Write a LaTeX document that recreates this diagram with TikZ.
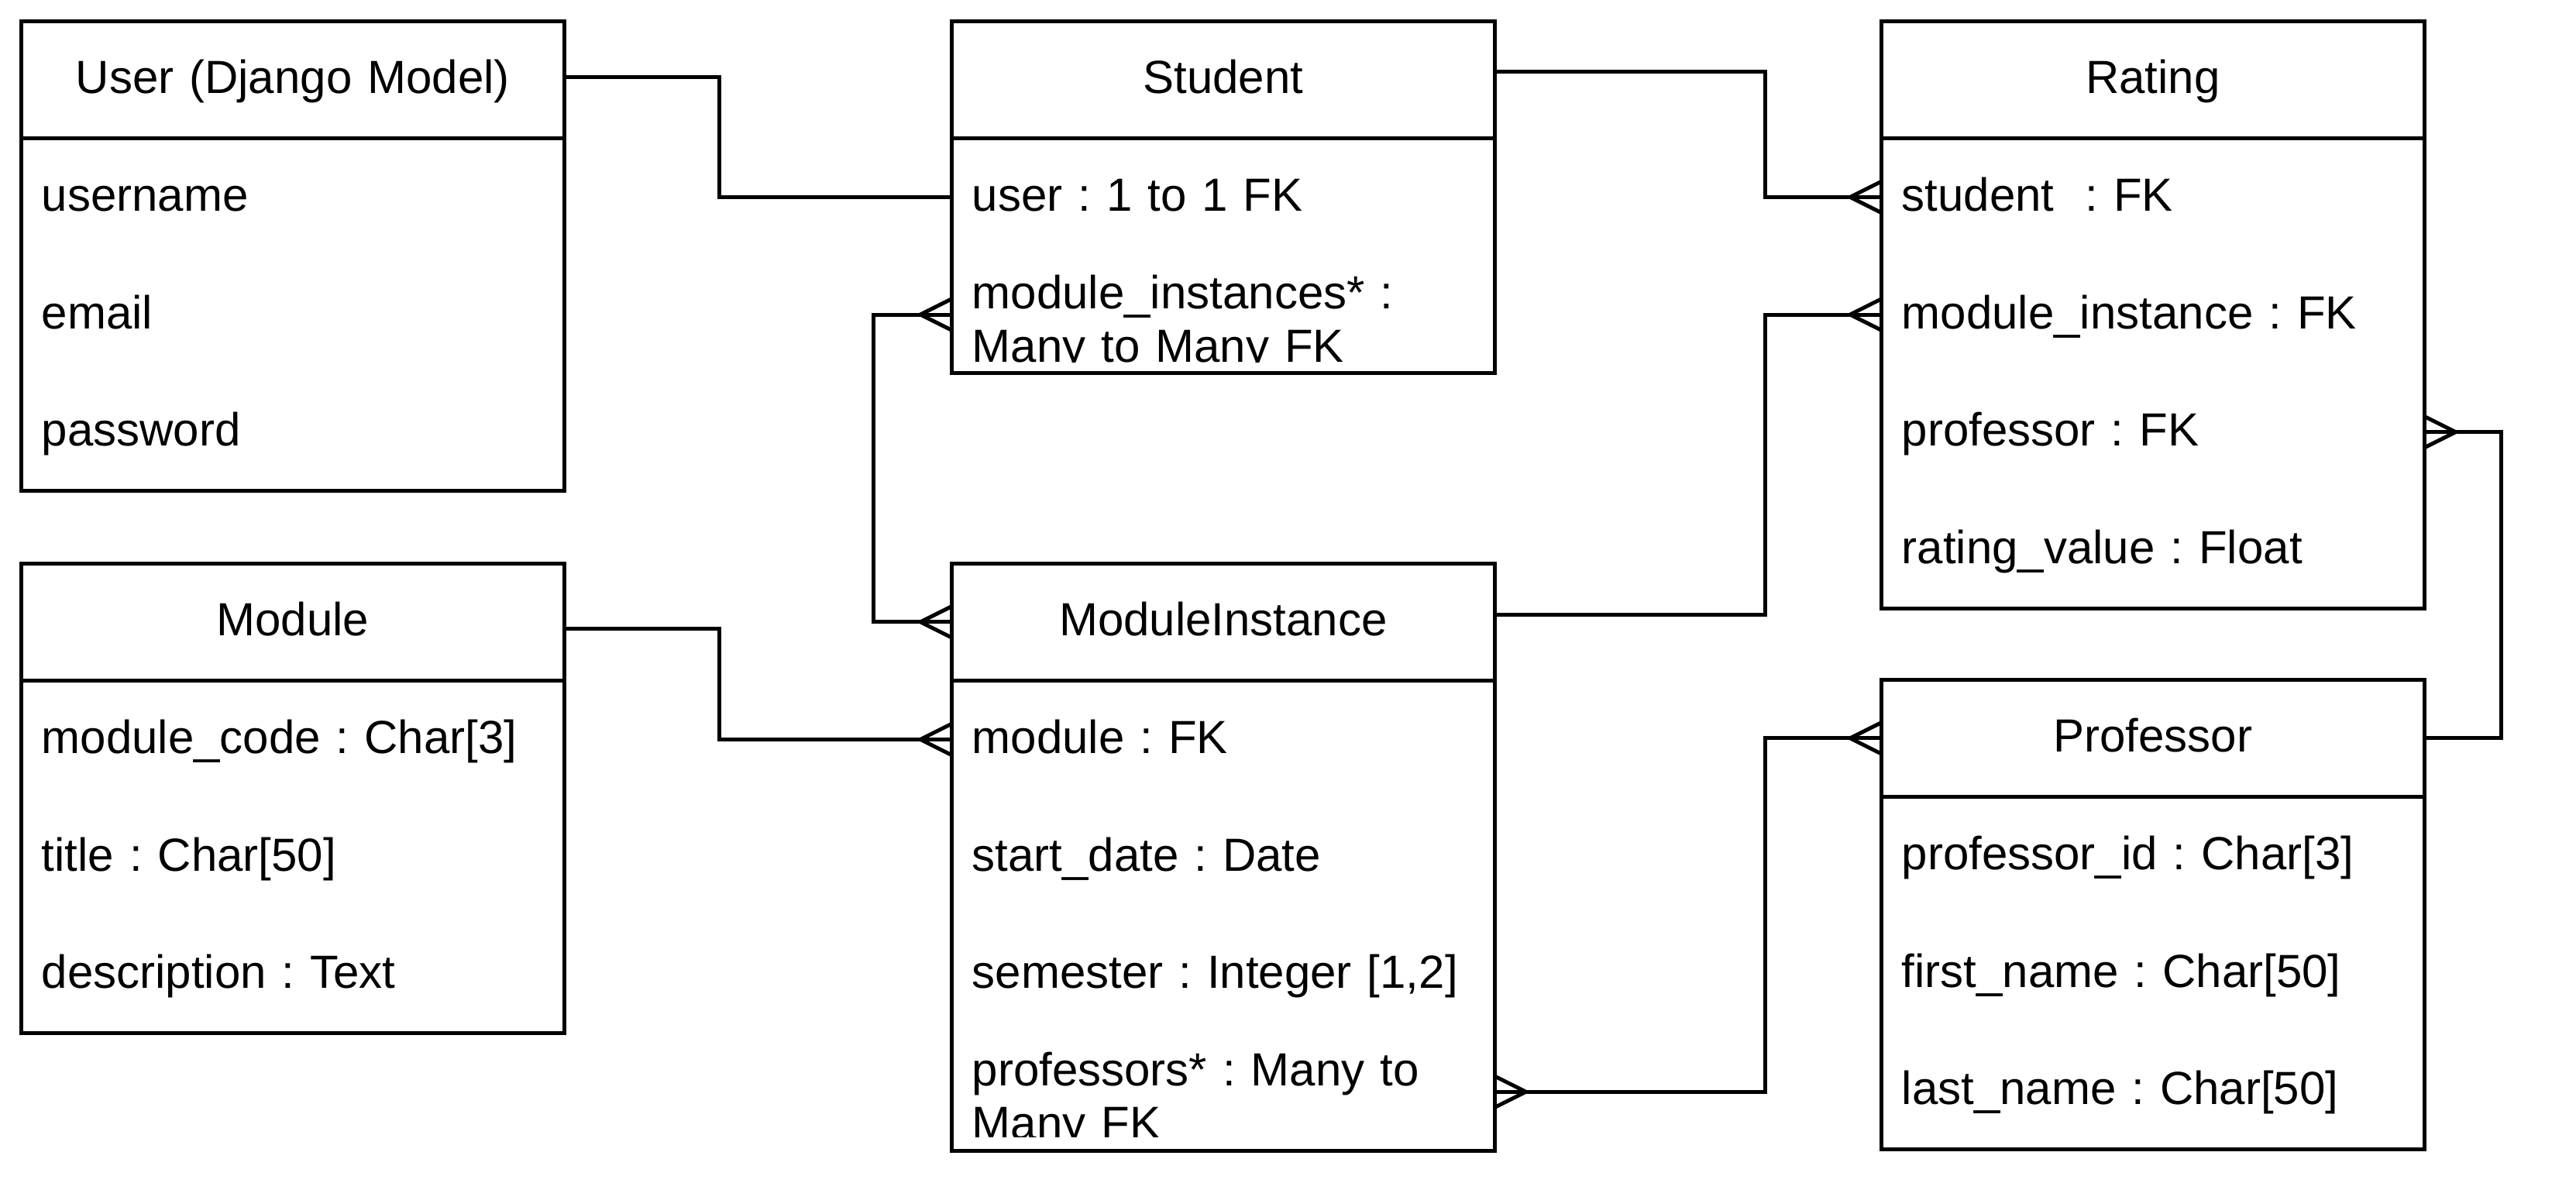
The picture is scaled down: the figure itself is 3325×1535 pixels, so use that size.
\documentclass[tikz,border=0pt]{standalone}
\usepackage{fontspec}
\setmainfont{Liberation Sans}
\frenchspacing
\begin{document}
\begin{tikzpicture}[x=0.25pt,y=-0.25pt,
  cell/.style={minimum width=175pt,minimum height=37.5pt,inner xsep=6.5pt,inner ysep=0pt,
    text width=162pt,anchor=north west,font=\fontsize{15}{17.25}\selectfont,
    text height=12.25pt,text depth=3.25pt},
  fieldcell/.style={cell,align=left},
  hdrcell/.style={cell,align=center},
  twoline/.style={text height=6pt,text depth=10pt},
  boxline/.style={line width=1.25pt},
  connline/.style={line width=1.25pt},
  crowL/.pic={\draw[line width=1.25pt] (0,-20) -- (-40,0) -- (0,20);},
  crowR/.pic={\draw[line width=1.25pt] (0,-20) -- (40,0) -- (0,20);}]
\useasboundingbox (0,0) rectangle (3325,1535);

% User
\node[hdrcell] (userH) at (27,27) {User (Django Model)};
\node[fieldcell] (usr1) at (userH.south west) {username};
\node[fieldcell] (usr2) at (usr1.south west) {email};
\node[fieldcell] (usr3) at (usr2.south west) {password};
\draw[boxline] (userH.north west) rectangle (usr3.south east) (userH.south west) -- (userH.south east);

% Student
\node[hdrcell] (stuH) at (1228,27) {Student};
\node[fieldcell] (stu1) at (stuH.south west) {user : 1 to 1 FK};
\begin{scope}
\clip (1228,327) rectangle (1928,467);
\node[fieldcell,twoline] (stu2) at (stu1.south west) {\vtop{\hbox{module\_instances* :}\hbox{Many to Many FK}}};
\end{scope}
\draw[boxline] (stuH.north west) rectangle (stu2.south east) (stuH.south west) -- (stuH.south east);

% Rating
\node[hdrcell] (ratH) at (2428,27) {Rating};
\node[fieldcell] (rat1) at (ratH.south west) {student\ \ : FK};
\node[fieldcell] (rat2) at (rat1.south west) {module\_instance : FK};
\node[fieldcell] (rat3) at (rat2.south west) {professor : FK};
\node[fieldcell] (rat4) at (rat3.south west) {rating\_value : Float};
\draw[boxline] (ratH.north west) rectangle (rat4.south east) (ratH.south west) -- (ratH.south east);

% Module
\node[hdrcell] (modH) at (27,727) {Module};
\node[fieldcell] (mod1) at (modH.south west) {module\_code : Char[3]};
\node[fieldcell] (mod2) at (mod1.south west) {title : Char[50]};
\node[fieldcell] (mod3) at (mod2.south west) {description : Text};
\draw[boxline] (modH.north west) rectangle (mod3.south east) (modH.south west) -- (modH.south east);

% ModuleInstance
\node[hdrcell] (miH) at (1228,727) {ModuleInstance};
\node[fieldcell] (mi1) at (miH.south west) {module : FK};
\node[fieldcell] (mi2) at (mi1.south west) {start\_date : Date};
\node[fieldcell] (mi3) at (mi2.south west) {semester : Integer [1,2]};
\begin{scope}
\clip (1228,1327) rectangle (1928,1467);
\node[fieldcell,twoline] (mi4) at (mi3.south west) {\vtop{\hbox{professors* : Many to}\hbox{Many FK}}};
\end{scope}
\draw[boxline] (miH.north west) rectangle (mi4.south east) (miH.south west) -- (miH.south east);

% Professor
\node[hdrcell] (proH) at (2428,877) {Professor};
\node[fieldcell] (pro1) at (proH.south west) {professor\_id : Char[3]};
\node[fieldcell] (pro2) at (pro1.south west) {first\_name : Char[50]};
\node[fieldcell] (pro3) at (pro2.south west) {last\_name : Char[50]};
\draw[boxline] (proH.north west) rectangle (pro3.south east) (proH.south west) -- (proH.south east);

% Connectors
\draw[connline] ([yshift=0.75pt]userH.east) -- ++(200,0) |- (stu1.west);
\draw[connline] (stu2.west) -- ++(-101,0) |- (miH.west);
\draw[connline] ([yshift=2.5pt]stuH.east) -- ++(349,0) |- (rat1.west);
\draw[connline] ([yshift=2.25pt]miH.east) -- ++(349,0) |- (rat2.west);
\draw[connline] ([yshift=-2.25pt]modH.east) -- ++(200,0) |- (mi1.west);
\draw[connline] (mi4.east) -- ++(349,0) |- (proH.west);
\draw[connline] (rat3.east) -- ++(99,0) |- (proH.east);

\pic at (stu2.west) {crowL};
\pic at (miH.west) {crowL};
\pic at (rat1.west) {crowL};
\pic at (rat2.west) {crowL};
\pic at (mi1.west) {crowL};
\pic at (proH.west) {crowL};
\pic at (mi4.east) {crowR};
\pic at (rat3.east) {crowR};
\end{tikzpicture}
\end{document}
